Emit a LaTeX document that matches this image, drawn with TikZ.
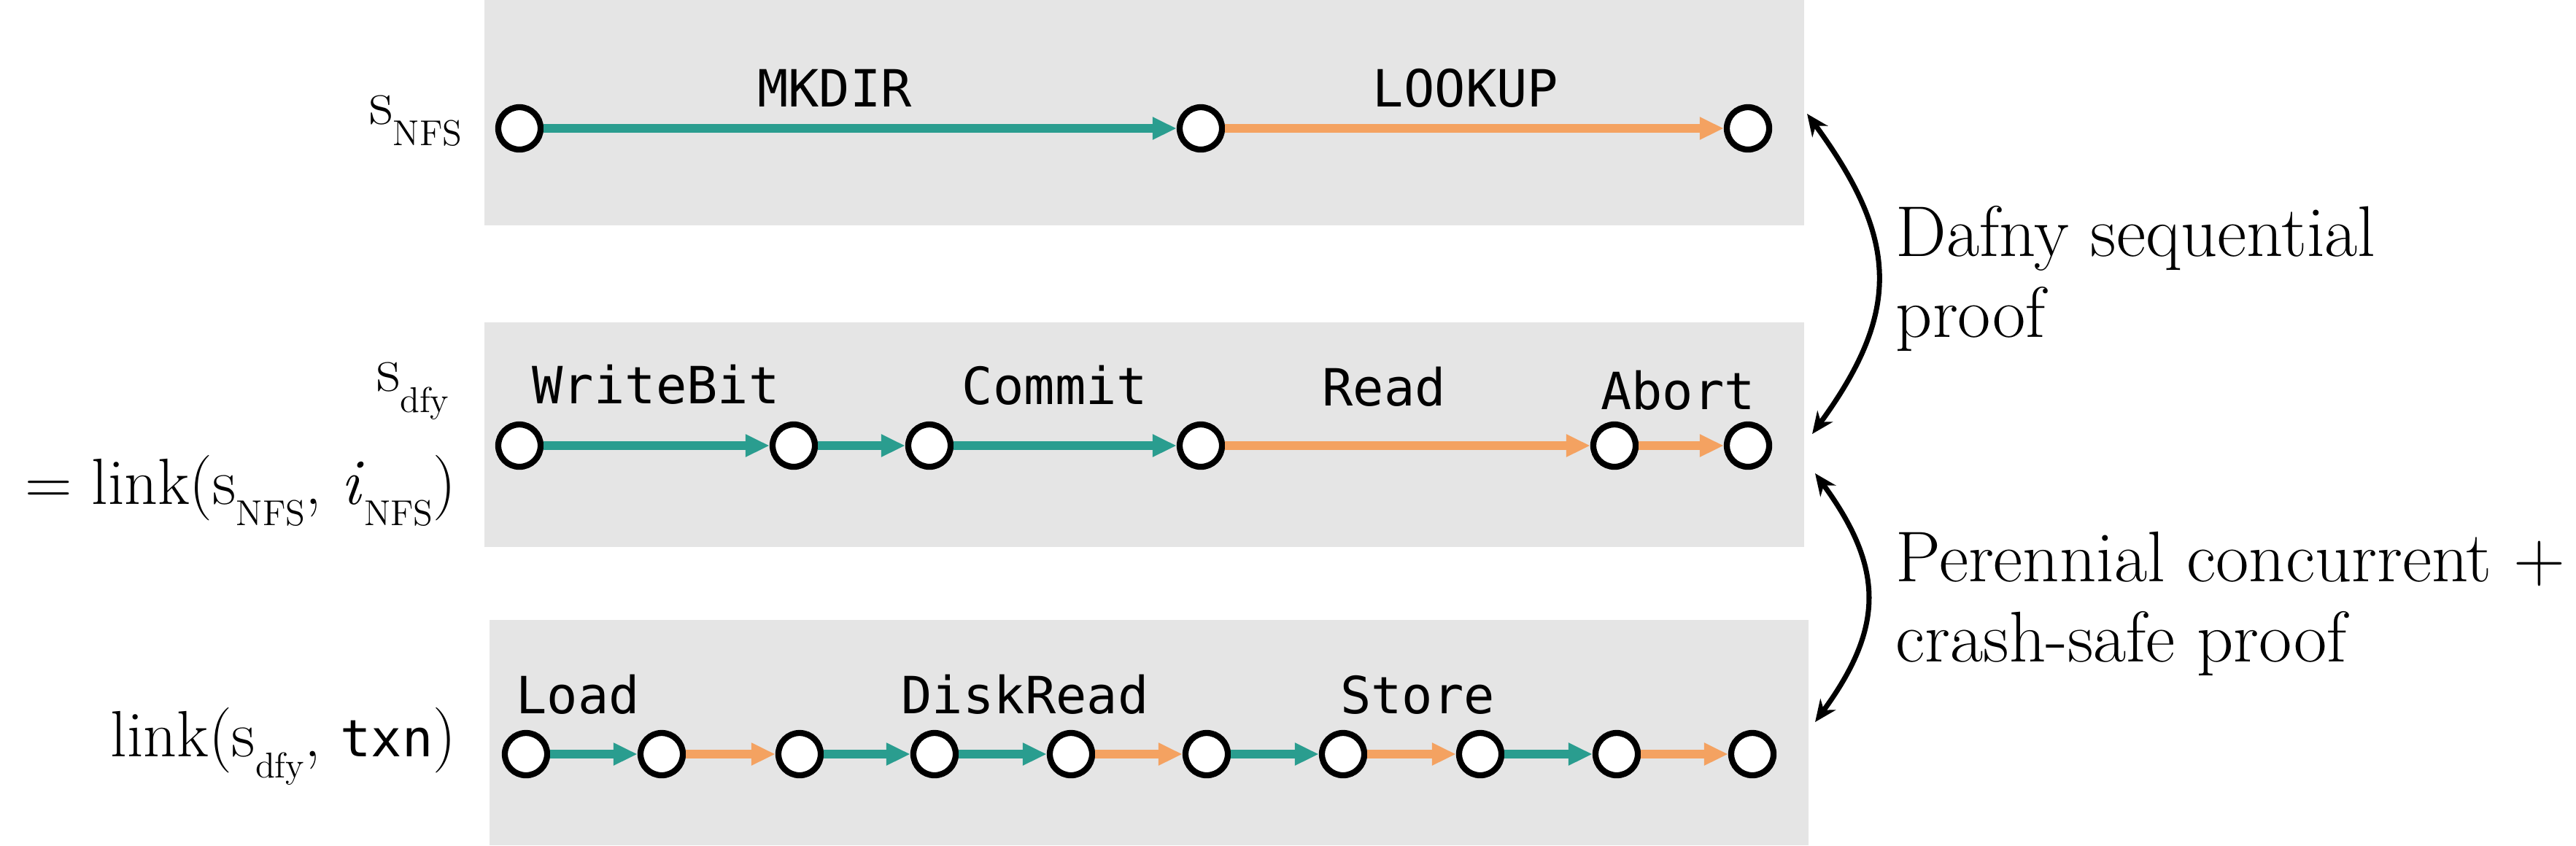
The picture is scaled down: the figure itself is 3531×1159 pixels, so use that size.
\documentclass[tikz,border=0pt]{standalone}
\usepackage{fontspec}
\usepackage{graphicx}
\newfontfamily\monof{DejaVu Sans Mono}
\usetikzlibrary{arrows.meta}
\definecolor{tealc}{HTML}{2A9D8F}
\definecolor{orangec}{HTML}{F4A261}
\definecolor{boxgray}{HTML}{E5E5E5}
\newcommand\lsub[1]{\raisebox{-8.5pt}{\fontsize{14}{14}\selectfont #1}}
\begin{document}
\begin{tikzpicture}[x=0.01cm,y=-0.01cm,
  st/.style={circle,draw=black,fill=white,line width=2.36pt,minimum size=0.58cm,inner sep=0pt},
  tedge/.style={draw=tealc,line width=3.5pt,-{Triangle[length=0.33cm,width=0.29cm]}},
  oedge/.style={draw=orangec,line width=3.5pt,-{Triangle[length=0.33cm,width=0.29cm]}},
  mono/.style={font=\monof\fontsize{20}{24}\selectfont,anchor=base,inner sep=0pt},
  rtext/.style={font=\fontsize{28}{32}\selectfont,anchor=base west,inner sep=0pt},
  ltext/.style={font=\fontsize{25.5}{30}\selectfont,anchor=base east,inner sep=0pt},
  proofarrow/.style={line width=2pt,{Stealth[length=0.3cm,width=0.26cm]}-{Stealth[length=0.3cm,width=0.26cm]}}
]
\useasboundingbox (0,0) rectangle (3531,1159);
% background boxes
\fill[boxgray] (664,0) rectangle (2473,309);
\fill[boxgray] (664,442) rectangle (2473,750);
\fill[boxgray] (671,850) rectangle (2479,1159);

% left labels
\node[ltext] (lnfs) at (634,170) {s\lsub{NFS}};
\node[ltext] (ldfy) at (616,536) {s\lsub{dfy}};
\node[ltext] (llink) at (626,691) {= link(s\lsub{NFS}, \textit{i}\lsub{NFS})};
\node[ltext] (ltxn) at (626,1037) {link(s\lsub{dfy}, {\monof\fontsize{20}{24}\selectfont txn})};

% row 1
\node[st] (a1) at (712,176) {};
\node[st] (a2) at (1646,176) {};
\node[st] (a3) at (2396,176) {};
\draw[tedge] (a1) -- (a2);
\draw[oedge] (a2) -- (a3);
\node[mono] (tmk) at (1144,146) {MKDIR};
\node[mono] (tlk) at (2009,146) {LOOKUP};

% row 2
\node[st] (b1) at (712,611) {};
\node[st] (b2) at (1088,611) {};
\node[st] (b3) at (1274,611) {};
\node[st] (b4) at (1646,611) {};
\node[st] (b5) at (2213,611) {};
\node[st] (b6) at (2396,611) {};
\draw[tedge] (b1) -- (b2);
\draw[tedge] (b2) -- (b3);
\draw[tedge] (b3) -- (b4);
\draw[oedge] (b4) -- (b5);
\draw[oedge] (b5) -- (b6);
\node[mono] (twb) at (899,553) {WriteBit};
\node[mono] (tcm) at (1446,554) {Commit};
\node[mono] (trd) at (1897,556) {Read};
\node[mono] (tab) at (2300,561) {Abort};

% row 3
\node[st] (c1) at (721,1034) {};
\node[st] (c2) at (907,1034) {};
\node[st] (c3) at (1096,1034) {};
\node[st] (c4) at (1281,1034) {};
\node[st] (c5) at (1468,1034) {};
\node[st] (c6) at (1654,1034) {};
\node[st] (c7) at (1841,1034) {};
\node[st] (c8) at (2029,1034) {};
\node[st] (c9) at (2216,1034) {};
\node[st] (c10) at (2402,1034) {};
\draw[tedge] (c1) -- (c2);
\draw[oedge] (c2) -- (c3);
\draw[tedge] (c3) -- (c4);
\draw[tedge] (c4) -- (c5);
\draw[oedge] (c5) -- (c6);
\draw[tedge] (c6) -- (c7);
\draw[oedge] (c7) -- (c8);
\draw[tedge] (c8) -- (c9);
\draw[oedge] (c9) -- (c10);
\node[mono] (tld) at (792,978) {Load};
\node[mono] (tdr) at (1405,978) {DiskRead};
\node[mono] (tst) at (1943,978) {Store};

% proof arrows
\coordinate (d1) at (2477,156);
\coordinate (d2) at (2484,595);
\coordinate (e1) at (2488,649);
\coordinate (e2) at (2488,990);
\draw[proofarrow] (d1) .. controls +(124,170) and +(124,-170) .. (d2);
\draw[proofarrow] (e1) .. controls +(95,130) and +(95,-130) .. (e2);

% right texts
\node[rtext] (r1) at (2598,351) {Dafny sequential};
\node[rtext] (r2) at (2598,462) {proof};
\node[rtext] (r3) at (2598,797) {Perennial concurrent +};
\node[rtext] (r4) at (2598,907) {crash-safe proof};
\end{tikzpicture}
\end{document}
